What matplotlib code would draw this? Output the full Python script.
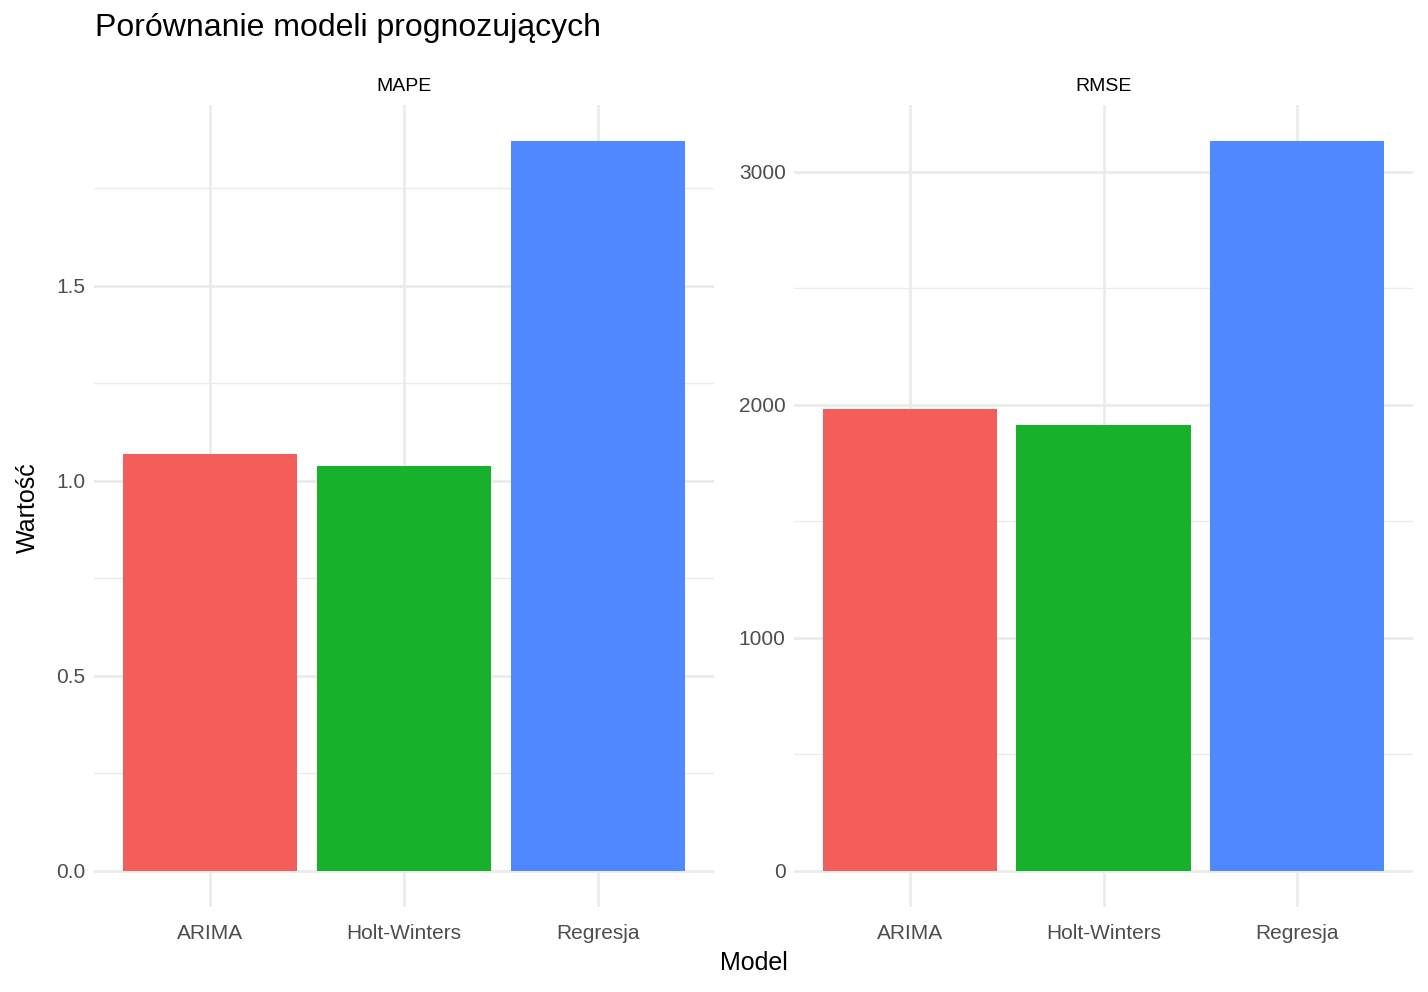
import matplotlib.pyplot as plt
import numpy as np

plt.rcParams['font.family'] = ['Liberation Sans', 'DejaVu Sans']

models = ['ARIMA', 'Holt-Winters', 'Regresja']
colors = ['#F35E5A', '#17B12B', '#4F88FF']
mape = [1.069, 1.038, 1.870]
rmse = [1981, 1912, 3129]
mape_ticks = [0.0, 0.5, 1.0, 1.5]
rmse_ticks = [0, 1000, 2000, 3000]

W, H = 1428, 992
fig = plt.figure(figsize=(W / 100, H / 100), dpi=100)
fig.patch.set_facecolor('white')

def panel(x0, x1, vals, ticks, labels, title):
    ax = fig.add_axes([x0 / W, 1 - 907 / H, (x1 - x0) / W, (907 - 105) / H])
    x = np.arange(len(models))
    ax.bar(x, vals, width=0.9, color=colors, zorder=3)
    top = max(vals)
    ax.set_ylim(-0.05 * top, top * 1.05)
    ax.set_xlim(-0.6, len(models) - 0.4)
    ax.set_yticks(ticks)
    ax.set_yticklabels(labels)
    minor = [(a + b) / 2 for a, b in zip(ticks[:-1], ticks[1:])] + [ticks[-1] + (ticks[1] - ticks[0]) / 2]
    ax.set_yticks([m for m in minor if m < top * 1.05], minor=True)
    ax.set_xticks(x)
    ax.set_xticklabels(models)
    ax.grid(True, which='major', color='#EBEBEB', linewidth=2, zorder=0)
    ax.grid(True, which='minor', axis='y', color='#EBEBEB', linewidth=1, zorder=0)
    ax.tick_params(length=0, which='both', labelsize=15, labelcolor='#4D4D4D', pad=6)
    ax.tick_params(axis='x', pad=12)
    for s in ax.spines.values():
        s.set_visible(False)
    ax.set_facecolor('white')
    ax.set_title(title, fontsize=14, pad=10)
    return ax

panel(94, 714, mape, mape_ticks, ['0.0', '0.5', '1.0', '1.5'], 'MAPE')
panel(794, 1413, rmse, rmse_ticks, [str(t) for t in rmse_ticks], 'RMSE')

fig.text(95 / W, 1 - 28 / H, 'Porównanie modeli prognozujących', fontsize=23, va='center', ha='left')
fig.text(754 / W, 1 - 963 / H, 'Model', fontsize=18, va='center', ha='center')
fig.text(28 / W, 1 - 508 / H, 'Wartość', fontsize=18, va='center', ha='center', rotation=90)

fig.savefig('out.png', dpi=100)
